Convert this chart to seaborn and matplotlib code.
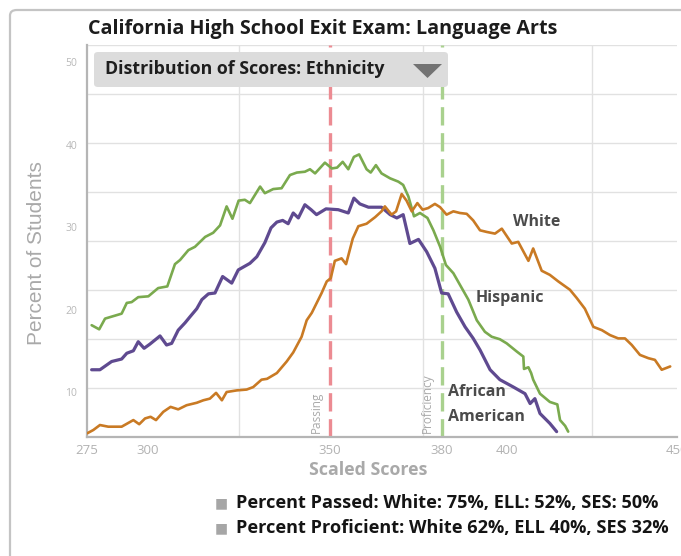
import numpy as np
import matplotlib
matplotlib.use("Agg")
import matplotlib.pyplot as plt
import seaborn as sns
from matplotlib.patches import FancyBboxPatch, Polygon

# ----------------------------------------------------
# Data
# ----------------------------------------------------
hispanic_score = [276.9, 280.0, 282.4, 289.2, 291.3, 293.3, 296.0, 300.1, 302.8, 305.3,
                  307.4, 308.8, 311.1, 312.9, 315.7, 317.9, 319.8, 321.6, 323.2, 324.9,
                  326.6, 328.0, 330.8, 332.1, 334.4, 336.7, 339.0, 340.9, 343.1, 344.5,
                  345.9, 348.6, 350.5, 351.9, 353.4, 354.9, 356.4, 357.8, 359.8, 360.9,
                  362.3, 363.8, 366.1, 368.3, 369.6, 371.0, 372.5, 374.1, 376.1, 377.7,
                  379.5, 381.2, 383.5, 385.8, 388.1, 390.7, 393.2, 395.3, 397.8, 399.9,
                  402.9, 404.8, 405.0, 406.3, 407.1, 407.7, 409.7, 412.6, 414.8, 415.6,
                  417.1, 418.0]
hispanic_pct = [18.1, 17.6, 18.9, 19.5, 20.8, 20.9, 21.5, 21.6, 22.6, 22.8,
                25.5, 26.0, 27.2, 27.6, 28.8, 29.3, 30.2, 32.5, 31.0, 33.2,
                33.3, 32.9, 34.9, 34.1, 34.6, 34.7, 36.3, 36.6, 36.7, 37.0,
                36.5, 37.8, 37.1, 37.2, 37.9, 37.0, 38.5, 38.8, 37.0, 36.6,
                37.5, 36.5, 35.9, 35.5, 35.1, 33.7, 31.3, 31.7, 31.1, 29.6,
                27.6, 25.4, 24.4, 22.8, 21.2, 18.7, 17.3, 16.7, 16.4, 15.9,
                14.9, 14.3, 12.8, 13.0, 12.3, 11.5, 9.8, 8.8, 8.5, 6.6,
                5.9, 5.2]

african_american_score = [276.9, 280.3, 285.1, 289.2, 291.3, 294.0, 296.0, 298.4, 300.5, 303.3,
                          305.1, 306.5, 308.3, 310.2, 311.5, 313.4, 314.8, 316.6, 318.4, 320.5,
                          323.0, 324.8, 328.0, 329.9, 332.1, 333.8, 335.4, 337.0, 338.5, 339.9,
                          341.3, 343.1, 344.8, 346.3, 348.9, 352.2, 354.9, 356.4, 358.0, 360.3,
                          363.8, 366.1, 367.9, 369.6, 371.4, 373.7, 375.9, 378.1, 379.9, 381.9,
                          384.5, 387.1, 389.6, 391.7, 394.8, 397.8, 401.9, 405.3, 406.8, 408.2,
                          409.7, 412.6, 414.6]
african_american_pct = [12.7, 12.7, 13.7, 14.0, 14.7, 15.0, 16.1, 15.3, 15.8, 16.8,
                        15.7, 15.9, 17.5, 18.4, 19.1, 20.1, 21.2, 21.9, 22.0, 24.0,
                        23.2, 24.8, 25.6, 26.4, 28.1, 29.9, 30.6, 30.8, 30.4, 31.7,
                        31.1, 32.7, 32.1, 31.5, 32.2, 32.1, 31.7, 33.5, 32.8, 32.4,
                        32.4, 31.5, 31.1, 31.5, 28.0, 28.5, 27.0, 25.0, 22.0, 21.9,
                        19.7, 17.9, 16.5, 15.1, 12.7, 11.5, 10.6, 9.8, 8.6, 9.2,
                        7.4, 6.2, 5.2]

white_score = [275.1, 277.6, 280.3, 283.7, 289.2, 294.0, 296.4, 298.8, 300.7, 302.2,
               304.2, 306.2, 308.3, 310.6, 313.4, 315.2, 317.0, 318.7, 320.3, 321.6,
               324.4, 327.1, 328.9, 331.2, 332.7, 335.4, 338.1, 339.9, 342.2, 343.6,
               345.0, 346.8, 347.7, 349.1, 350.2, 351.3, 353.1, 354.3, 356.1, 357.6,
               359.8, 362.1, 363.8, 364.7, 366.5, 367.7, 369.2, 370.5, 371.9, 373.4,
               374.8, 376.3, 378.1, 379.5, 381.4, 383.5, 385.5, 387.6, 389.6, 391.7,
               393.8, 396.3, 398.4, 401.4, 403.3, 406.3, 407.7, 410.2, 412.6, 415.1,
               418.5, 420.5, 422.9, 425.4, 427.9, 430.3, 432.7, 434.7, 436.7, 439.1,
               441.6, 443.5, 445.5, 448.0]
white_pct = [5.0, 5.4, 6.0, 5.8, 5.8, 6.6, 6.1, 6.8, 7.0, 6.6,
             7.6, 8.2, 7.9, 8.4, 8.7, 9.0, 9.2, 9.9, 9.0, 10.0,
             10.2, 10.3, 10.6, 11.5, 11.6, 12.3, 13.7, 14.8, 16.7, 18.7,
             19.6, 21.2, 22.0, 23.4, 23.8, 25.9, 26.2, 25.5, 28.6, 30.1,
             30.4, 31.2, 31.9, 32.5, 31.5, 31.9, 34.0, 33.2, 31.9, 32.9,
             32.1, 32.3, 32.8, 32.4, 31.5, 31.9, 31.7, 31.6, 30.8, 29.6,
             29.4, 29.2, 29.8, 28.0, 28.2, 25.9, 27.4, 24.7, 24.2, 23.4,
             22.4, 21.4, 20.1, 17.9, 17.5, 16.9, 16.5, 16.5, 15.7, 14.5,
             14.1, 13.9, 12.7, 13.1]

passing_score = 350
proficient_score = 380

x_ticks = [275, 300, 350, 380, 400, 450]
y_ticks = [10, 20, 30, 40, 50]

passed_summary = "Percent Passed: White: 75%, ELL: 52%, SES: 50%"
proficient_summary = "Percent Proficient: White 62%, ELL 40%, SES 32%"

GREEN = "#7aaa4e"
PURPLE = "#5f4a90"
ORANGE = "#c97a24"
GRID = "#e1e1e1"
LABEL_GRAY = "#a9a9a9"
BOLD_FONT = ["Open Sans", "DejaVu Sans"]

# the score axis of the original is not evenly spaced, so map it piecewise
SCORE_ANCHORS = [200, 275, 300, 350, 380, 400, 450, 500]
SCREEN_ANCHORS = [-96, 87, 148, 330, 442, 507, 677, 847]


def score_to_screen(x):
    return np.interp(x, SCORE_ANCHORS, SCREEN_ANCHORS)


def screen_to_score(p):
    return np.interp(p, SCREEN_ANCHORS, SCORE_ANCHORS)


sns.set_style("white")
plt.rcParams["font.family"] = BOLD_FONT

W, H = 681, 556
fig = plt.figure(figsize=(W / 100, H / 100), dpi=100)
ax = fig.add_axes([87 / W, 1 - 437 / H, 590 / W, 392 / H])
ax.set_xscale("function", functions=(score_to_screen, screen_to_score))

# ----------------------------------------------------
# Curves
# ----------------------------------------------------
ax.axvline(passing_score, color="#ec8b92", lw=2.4, ls=(0, (5.5, 2.3)), zorder=1)
ax.axvline(proficient_score, color="#a9d18e", lw=2.4, ls=(0, (5.5, 2.3)), zorder=1)

sns.lineplot(x=hispanic_score, y=hispanic_pct, ax=ax, color=GREEN, linewidth=1.9,
             sort=False, estimator=None, zorder=3)
sns.lineplot(x=african_american_score, y=african_american_pct, ax=ax, color=PURPLE,
             linewidth=2.3, sort=False, estimator=None, zorder=3)
sns.lineplot(x=white_score, y=white_pct, ax=ax, color=ORANGE, linewidth=1.9,
             sort=False, estimator=None, zorder=4)

ax.set_xlim(275, 450)
ax.set_ylim(4.55, 52.06)

# grid sits on its own evenly spaced lines, labels where the original put them
ax.set_xticks(x_ticks)
ax.set_xticklabels([str(t) for t in x_ticks])
ax.set_xticks([300, 325, 350, 375, 400, 425, 450], minor=True)
ax.set_yticks(y_ticks)
ax.set_yticks(np.linspace(4.55, 52.06, 9), minor=True)
ax.grid(which="minor", color=GRID, lw=1.0)
ax.grid(which="major", visible=False)
ax.set_axisbelow(True)
ax.tick_params(which="both", length=0)
ax.tick_params(axis="x", pad=5, labelsize=9.5, labelcolor="#b2b2b2")
ax.tick_params(axis="y", pad=7, labelsize=7.5, labelcolor="#b8b8b8")

for side in ["top", "right"]:
    ax.spines[side].set_visible(False)
for side in ["left", "bottom"]:
    ax.spines[side].set_color("#b5b5b5")
    ax.spines[side].set_linewidth(1.6)

ax.set_ylabel("Percent of Students", fontsize=15, color=LABEL_GRAY,
              family=["Liberation Sans", "DejaVu Sans"])
ax.yaxis.set_label_coords(-0.07, 0.47)
ax.set_xlabel("Scaled Scores", fontsize=12.8, color=LABEL_GRAY, weight="bold")
ax.xaxis.set_label_coords(0.476, -0.062)

# series labels
label_kw = dict(fontsize=11.5, weight="bold", color="#4b4b4b", zorder=5)
ax.text(401.8, 30.6, "White", va="center", ha="left", **label_kw)
ax.text(390.2, 21.4, "Hispanic", va="center", ha="left", **label_kw)
ax.text(381.8, 10.0, "African", va="center", ha="left", **label_kw)
ax.text(381.8, 7.0, "American", va="center", ha="left", **label_kw)

ax.text(346.3, 5.0, "Passing", rotation=90, ha="center", va="bottom",
        fontsize=8.5, color="#a9a9a9")
ax.text(376.0, 5.0, "Proficiency", rotation=90, ha="center", va="bottom",
        fontsize=8.5, color="#a9a9a9")

# ----------------------------------------------------
# Frame, title, dropdown and summary lines
# ----------------------------------------------------
frame = FancyBboxPatch((10 / W, -0.05), 1.1, 1.05 - 10 / H,
                       boxstyle="round,pad=0,rounding_size=0.01",
                       transform=fig.transFigure, fill=False,
                       edgecolor="#c4c4c4", lw=1.6, zorder=0)
fig.add_artist(frame)

fig.text(88 / W, 1 - 29 / H, "California High School Exit Exam: Language Arts",
         ha="left", va="center", fontsize=14.2, weight="bold", color="#1c1c1c")

box = FancyBboxPatch((94 / W, 1 - 87 / H), (448 - 94) / W, 35 / H,
                     boxstyle="round,pad=0,rounding_size=0.006",
                     transform=fig.transFigure, facecolor="#dcdcdc",
                     edgecolor="none", zorder=6)
fig.add_artist(box)
fig.text(105 / W, 1 - 69 / H, "Distribution of Scores: Ethnicity", ha="left",
         va="center", fontsize=12.8, weight="bold", color="#1e1e1e", zorder=7)
tri = Polygon([(413 / W, 1 - 64 / H), (442 / W, 1 - 64 / H), (427.5 / W, 1 - 78 / H)],
              closed=True, transform=fig.transFigure, facecolor="#737373",
              edgecolor="none", zorder=7)
fig.add_artist(tri)

for ypix, txt in [(503, passed_summary), (528, proficient_summary)]:
    fig.text(221 / W, 1 - ypix / H, "\u25a0", ha="center", va="center",
             fontsize=10, color="#a6a6a6", family="DejaVu Sans")
    fig.text(236 / W, 1 - ypix / H, txt, ha="left", va="center",
             fontsize=13.1, weight="bold", color="#141414")

fig.savefig("out.png", dpi=100)
